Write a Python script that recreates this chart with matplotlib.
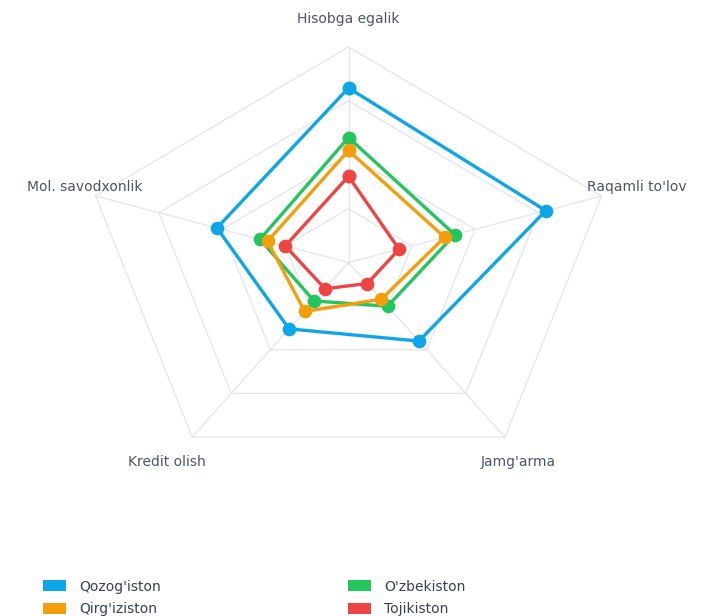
import numpy as np
import matplotlib
matplotlib.use("Agg")
import matplotlib.pyplot as plt
from matplotlib.patches import Patch

# Radar chart: moliyaviy inklyuziya ko'rsatkichlari
categories = ["Hisobga egalik", "Raqamli to'lov", "Jamg'arma", "Kredit olish", "Mol. savodxonlik"]
qozogiston = [81, 78, 45, 38, 52]
ozbekiston = [58, 42, 25, 22, 35]
qirgiziston = [52, 38, 21, 28, 32]
tojikiston = [40, 20, 12, 15, 25]
levels = [25, 50, 75, 100]

series = [
    ("Qozog'iston", qozogiston, "#0ea5e9"),
    ("O'zbekiston", ozbekiston, "#22c55e"),
    ("Qirg'iziston", qirgiziston, "#f59e0b"),
    ("Tojikiston", tojikiston, "#ef4444"),
]

plt.rcParams["font.family"] = ["DejaVu Sans"]

W, H = 703, 616
fig = plt.figure(figsize=(W / 100, H / 100), dpi=100)

# polar axes stretched horizontally like the original picture
ax = fig.add_axes([82.5 / W, 1 - 478.2 / H, 532 / W, 431.2 / H], projection="polar")
ax.set_aspect("auto")
ax.set_theta_zero_location("N")
ax.set_theta_direction(-1)
ax.set_ylim(0, 100)
ax.set_xticks([])
ax.set_yticks([])
ax.grid(False)
ax.spines["polar"].set_visible(False)
ax.patch.set_visible(False)

n = len(categories)
angles = np.linspace(0, 2 * np.pi, n, endpoint=False)
closed = np.append(angles, angles[0])

grid_col = "#e3e5ea"
for lv in levels:
    ax.plot(closed, [lv] * (n + 1), color=grid_col, lw=0.9, clip_on=False, zorder=1)
for a in angles:
    ax.plot([a, a], [0, levels[-1]], color=grid_col, lw=0.9, clip_on=False, zorder=1)

for name, vals, col in series:
    v = vals + vals[:1]
    ax.plot(closed, v, color=col, lw=2.4, marker="o", markersize=8.8,
            clip_on=False, zorder=3, solid_joinstyle="round")

# axis labels
fs = 10
label_offsets = [(0, 28, "center"), (-14, 9, "left"), (13, -25, "center"),
                 (-25, -25, "center"), (47, 9, "right")]
for a, lab, (dx, dy, ha) in zip(angles, categories, label_offsets):
    ax.annotate(lab, xy=(a, levels[-1]), xytext=(dx, dy), textcoords="offset pixels",
                ha=ha, va="center", fontsize=fs, color="#4a5568", annotation_clip=False)

# legend in two columns
col1 = [series[0], series[2]]
col2 = [series[1], series[3]]
for items, x0 in [(col1, 43.3), (col2, 348)]:
    handles = [Patch(facecolor=c, edgecolor="none") for _, _, c in items]
    labels = [nm for nm, _, _ in items]
    fig.legend(handles, labels, loc="upper left", bbox_to_anchor=(x0 / W, 1 - 579.7 / H),
               frameon=False, fontsize=fs, handlelength=1.66, handleheight=0.86,
               handletextpad=0.96, labelspacing=0.6, borderpad=0, borderaxespad=0,
               labelcolor="#374151")

fig.savefig("out.png", dpi=100, facecolor="white")
